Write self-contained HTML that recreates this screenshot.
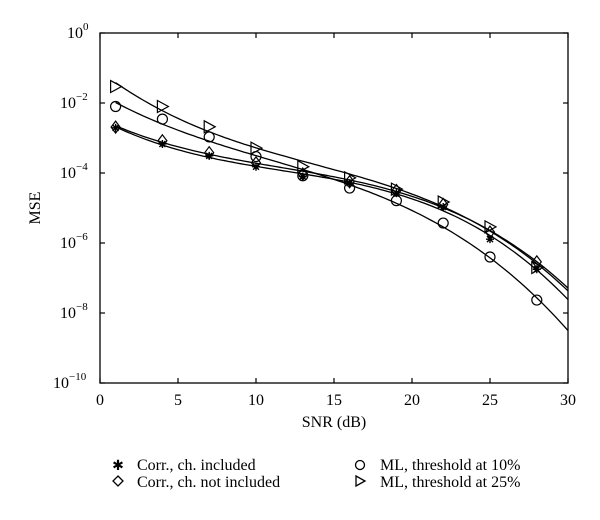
<!DOCTYPE html>
<html><head><meta charset="utf-8"><style>
body{margin:0;background:#fff;}
svg{display:block;font-family:"Liberation Serif",serif;}
</style></head><body>
<svg id="chart" width="600" height="520" viewBox="0 0 600 520">
<rect x="0" y="0" width="600" height="520" fill="#fff"/>
<g id="grid"></g>
<g id="curves"></g>
<g id="marks"></g>
<rect x="100" y="33" width="468" height="350" fill="none" stroke="#000" stroke-width="1.3"/>
<text x="334" y="427" text-anchor="middle" font-size="16">SNR (dB)</text>
<text transform="translate(40,208) rotate(-90)" text-anchor="middle" font-size="16">MSE</text>
<g font-size="16">
  <g>
    <text x="118" y="470" font-size="14" text-anchor="middle">✱</text>
    <text x="137" y="470">Corr., ch. included</text>
  </g>
  <g>
    <polygon points="118,476 123,481 118,486 113,481" fill="none" stroke="#000" stroke-width="1.3"/>
    <text x="137" y="487">Corr., ch. not included</text>
  </g>
  <g>
    <circle cx="360" cy="465" r="4.5" fill="none" stroke="#000" stroke-width="1.3"/>
    <text x="380" y="470">ML, threshold at 10%</text>
  </g>
  <g>
    <polygon points="356,476 365,481 356,486" fill="none" stroke="#000" stroke-width="1.3"/>
    <text x="380" y="487">ML, threshold at 25%</text>
  </g>
</g>
</svg>
<script>
const snr = [1,4,7,10,13,16,19,22,25,28];
const logStar = [-2.71,-3.17,-3.51,-3.82,-4.10,-4.29,-4.57,-4.97,-5.89,-6.75];
const logDiamond = [-2.69,-3.08,-3.42,-3.71,-4.03,-4.25,-4.50,-4.90,-5.69,-6.54];
const logCircle = [-2.10,-2.46,-2.97,-3.53,-4.08,-4.43,-4.79,-5.43,-6.40,-7.63];
const logTri = [-1.53,-2.10,-2.68,-3.29,-3.82,-4.14,-4.46,-4.83,-5.54,-6.70];
const xTicks = [0,5,10,15,20,25,30];
const yTicks = [0,-2,-4,-6,-8,-10];

const NS='http://www.w3.org/2000/svg';
const X0=100,X1=568,Y0=33,Y1=383;
const xs=v=>X0+(v-0)/(30-0)*(X1-X0);
const ys=l=>Y0+(0-l)/(10)*(Y1-Y0);
function el(t,a,p){const e=document.createElementNS(NS,t);for(const k in a)e.setAttribute(k,a[k]);p.appendChild(e);return e;}
const grid=document.getElementById('grid');
xTicks.forEach(t=>{
  const x=xs(t);
  const l1=el('line',{x1:x,x2:x,y1:Y1,y2:Y1-5,stroke:'#000','stroke-width':1.2},grid);
  
  
  const l2=el('line',{x1:x,x2:x,y1:Y0,y2:Y0+5,stroke:'#000','stroke-width':1.2},grid);
  
  
  const tx=el('text',{x:x,y:405,'text-anchor':'middle','font-size':16},grid);
  tx.textContent=t;
  
  
});
yTicks.forEach(t=>{
  const y=ys(t);
  const l1=el('line',{x1:X0,x2:X0+5,y1:y,y2:y,stroke:'#000','stroke-width':1.2},grid);
  
  
  const l2=el('line',{x1:X1,x2:X1-5,y1:y,y2:y,stroke:'#000','stroke-width':1.2},grid);
  
  
  const tx=el('text',{x:X0-8,y:y+5,'text-anchor':'end','font-size':16},grid);
  
  
  const b=el('tspan',{},tx);b.textContent='10';
  const s=el('tspan',{dy:-8,'font-size':11},tx);s.textContent=(t<0?'\u2212'+(-t):t);
  tx.setAttribute('text-anchor','start');
  tx.setAttribute('x',X0-(t===0?33:(t===-10?47:40)));
});
function fit(xv,yv,deg){
  const n=deg+1,A=[];for(let i=0;i<n;i++){A.push(new Array(n+1).fill(0));}
  xv.forEach((x,k)=>{const u=x/30;for(let i=0;i<n;i++){for(let j=0;j<n;j++)A[i][j]+=Math.pow(u,i+j);A[i][n]+=Math.pow(u,i)*yv[k];}});
  for(let i=0;i<n;i++){let p=i;for(let r=i+1;r<n;r++)if(Math.abs(A[r][i])>Math.abs(A[p][i]))p=r;[A[i],A[p]]=[A[p],A[i]];
    for(let r=0;r<n;r++){if(r===i)continue;const f=A[r][i]/A[i][i];for(let c=i;c<=n;c++)A[r][c]-=f*A[i][c];}}
  const c=A.map((r,i)=>r[n]/r[i]);return x=>{const u=x/30;let s=0;for(let i=0;i<n;i++)s+=c[i]*Math.pow(u,i);return s;};
}
const series=[['corr-included',logStar,'star'],['corr-not-included',logDiamond,'diamond'],['ml-10',logCircle,'circle'],['ml-25',logTri,'tri']];
const cg=document.getElementById('curves'),mg=document.getElementById('marks');
series.forEach(([name,data,m])=>{
  const f=fit(snr,data,3);let d='';
  for(let x=1;x<=30.001;x+=0.25){d+=(d?'L':'M')+xs(x).toFixed(1)+','+ys(f(x)).toFixed(1);}
  const p=el('path',{d:d,fill:'none',stroke:'#000','stroke-width':1.3},cg);
  
  
  snr.forEach((v,i)=>{
    const x=xs(v),y=ys(data[i]);let e;
    if(m==='circle')e=el('circle',{cx:x,cy:y,r:5,fill:'none',stroke:'#000','stroke-width':1.2},mg);
    else if(m==='diamond')e=el('polygon',{points:`${x},${y-6} ${x+4.5},${y} ${x},${y+6} ${x-4.5},${y}`,fill:'none',stroke:'#000','stroke-width':1.2},mg);
    else if(m==='tri')e=el('polygon',{points:`${x-5},${y-6} ${x+6},${y} ${x-5},${y+6}`,fill:'none',stroke:'#000','stroke-width':1.2},mg);
    else{e=el('path',{d:`M${x-4},${y}H${x+4}M${x},${y-4}V${y+4}M${x-3},${y-3}L${x+3},${y+3}M${x-3},${y+3}L${x+3},${y-3}`,stroke:'#000','stroke-width':1.4},mg);}
    
    
  });
});
</script>
</body></html>
